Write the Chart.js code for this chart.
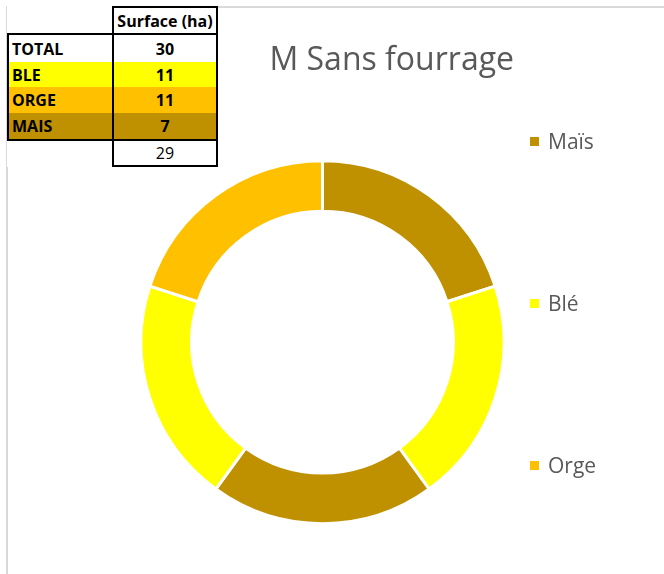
<!DOCTYPE html>
<html>
<head>
<meta charset="utf-8">
<script src="https://cdn.jsdelivr.net/npm/chart.js@4"></script>
<style>
  html, body { margin: 0; padding: 0; background: #fff; }
  body { width: 664px; height: 574px; position: relative; overflow: hidden; font-family: 'Open Sans', sans-serif; }
  #frame { position: absolute; left: 6px; top: 6px; width: 700px; height: 600px;
           border-left: 2px solid #d9d9d9; border-top: 2px solid #d9d9d9; }
  #chart { position: absolute; left: 0; top: 0; }
  #surface { position: absolute; left: 7px; top: 6px; border-collapse: collapse; z-index: 2;
             font-size: 16px; color: #000; background: #fff; }
  #surface td { padding: 0 3px; line-height: 20px; }
  #surface td.lab { width: 97px; font-weight: bold; text-align: left; border-left: 2px solid #000; }
  #surface td.val { width: 96px; font-weight: bold; text-align: center; border: 2px solid #000; border-top: none; border-bottom: none; }
  #surface tr.first td { border-top: 2px solid #000; }
  #surface tr.last td.lab, #surface tr.last td.val { border-bottom: 2px solid #000; }
  #surface td.head { border: 2px solid #000; font-weight: bold; text-align: center; }
  #surface td.sum { border: 2px solid #000; text-align: center; font-weight: normal; }
  #surface td.blank { border: none; }
  #legend { position: absolute; left: 530px; top: 126px; z-index: 2; }
  #legend .item { display: flex; align-items: center; height: 30px; margin-bottom: 132px;
                  font-size: 21px; color: #595959; }
  #legend .box { width: 9px; height: 9px; margin-right: 9px; }
</style>
</head>
<body>
<div id="frame"></div>
<canvas id="chart" width="664" height="574"></canvas>
<table id="surface"></table>
<div id="legend"></div>
<script>
// table on the sheet
const tableHeader = 'Surface (ha)';
const tableRows = ['TOTAL', 'BLE', 'ORGE', 'MAIS'];
const tableValues = [30, 11, 11, 7];
const tableRowColors = ['#ffffff', '#ffff00', '#ffc000', '#bf9000'];
const tableSum = 29;

// doughnut slices, clockwise from the top
const sliceLabels = ['Maïs', 'Blé', 'Maïs', 'Blé', 'Orge'];
const sliceValues = [20, 20, 20, 20, 20];
const cropColors = { 'Maïs': '#bf9000', 'Blé': '#ffff00', 'Orge': '#ffc000' };

const chartTitle = 'M Sans fourrage';

// build the sheet table
const table = document.getElementById('surface');
const rowHeights = [27, 28, 25, 26, 27, 26];
let html = '<tr style="height:' + rowHeights[0] + 'px"><td class="blank"></td><td class="head">' + tableHeader + '</td></tr>';
tableRows.forEach((name, i) => {
    let cls = i === 0 ? 'first' : (i === tableRows.length - 1 ? 'last' : '');
    html += '<tr class="' + cls + '" style="height:' + rowHeights[i + 1] + 'px;background:' + tableRowColors[i] + '">' +
            '<td class="lab">' + name + '</td><td class="val">' + tableValues[i] + '</td></tr>';
});
html += '<tr style="height:' + rowHeights[5] + 'px"><td class="blank" style="background:transparent"></td><td class="sum">' + tableSum + '</td></tr>';
table.innerHTML = html;

const chart = new Chart(document.getElementById('chart'), {
    type: 'doughnut',
    data: {
        labels: sliceLabels,
        datasets: [{
            data: sliceValues,
            backgroundColor: sliceLabels.map(l => cropColors[l]),
            borderColor: '#ffffff',
            borderWidth: 3,
            hoverOffset: 0,
            radius: 181.5,
            cutout: 137
        }]
    },
    options: {
        responsive: false,
        animation: false,
        layout: { padding: { left: 131, right: 150, top: 0, bottom: 0 } },
        plugins: {
            legend: { display: false },
            tooltip: { enabled: false },
            title: {
                display: true,
                text: chartTitle,
                align: 'end',
                color: '#595959',
                font: { family: 'Open Sans', size: 32, weight: 'normal' },
                padding: { top: 42, bottom: 30 }
            }
        }
    }
});

// legend: one entry per crop
const legend = document.getElementById('legend');
const seen = new Set();
const legendOrder = [];
chart.data.labels.forEach(l => { if (!seen.has(l)) { seen.add(l); legendOrder.push(l); } });
legendOrder.forEach(l => {
    const item = document.createElement('div');
    item.className = 'item';
    item.innerHTML = '<span class="box" style="background:' + cropColors[l] + '"></span><span>' + l + '</span>';
    legend.appendChild(item);
});
</script>
</body>
</html>
